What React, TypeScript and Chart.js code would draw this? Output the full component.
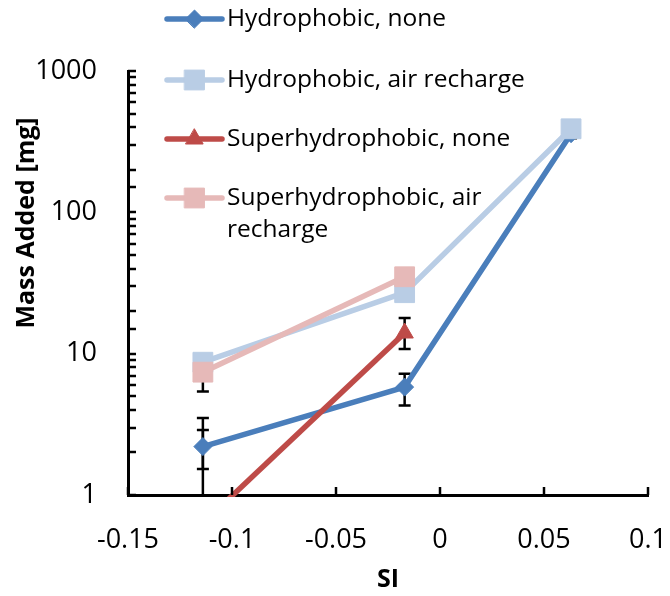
import React, { useEffect, useRef } from "react";
import { Chart, registerables } from "chart.js";
import { drawPoint } from "chart.js/helpers";
Chart.register(...registerables);

// ---------- data ----------
const seriesLabels = [
  "Hydrophobic, none",
  "Hydrophobic, air recharge",
  "Superhydrophobic, none",
  "Superhydrophobic, air recharge",
];
const siValues = [-0.114, -0.017, 0.063];
const hydroNone = [2.2, 5.8, 360];
const hydroNoneLow = [1.53, 4.3, 335];
const hydroNoneHigh = [3.5, 7.2, 385];
const hydroAir = [8.7, 27, 390];
const superNone = [0.63, 14];
const superNoneLow = [0.3, 10.8];
const superNoneHigh = [2.88, 17.9];
const superAir = [7.4, 35];
const superAirLow = [5.4, 31];
const superAirHigh = [9.5, 39];

const xTickValues = [-0.15, -0.1, -0.05, 0, 0.05, 0.1];
const xTickLabels = ["-0.15", "-0.1", "-0.05", "0", "0.05", "0.1"];
const yMajorTicks = [1, 10, 100, 1000];
const xTitle = "SI";
const yTitle = "Mass Added [mg]";

const colors = ["#4a7ebb", "#b9cde5", "#be4b48", "#e6b9b8"];
const FONT = "'Open Sans', sans-serif";

function pts(ys: number[]) {
  return ys.map((y, i) => ({ x: siValues[i], y }));
}

const errorSets = [
  { data: hydroNone, low: hydroNoneLow, high: hydroNoneHigh },
  { data: superNone, low: superNoneLow, high: superNoneHigh },
  { data: superAir, low: superAirLow, high: superAirHigh },
];

const errorBarPlugin = {
  id: "errorBars",
  beforeDatasetsDraw(chart: any) {
    const { ctx, chartArea } = chart;
    const xs = chart.scales.x;
    const ys = chart.scales.y;
    ctx.save();
    ctx.beginPath();
    ctx.rect(chartArea.left, chartArea.top, chartArea.right - chartArea.left, chartArea.bottom - chartArea.top);
    ctx.clip();
    ctx.strokeStyle = "#000";
    ctx.lineWidth = 2.5;
    errorSets.forEach((s) => {
      s.data.forEach((_v, i) => {
        const px = xs.getPixelForValue(siValues[i]);
        const lo = ys.getPixelForValue(s.low[i]);
        const hi = ys.getPixelForValue(s.high[i]);
        ctx.beginPath();
        ctx.moveTo(px, lo);
        ctx.lineTo(px, hi);
        ctx.moveTo(px - 6, lo);
        ctx.lineTo(px + 6, lo);
        ctx.moveTo(px - 6, hi);
        ctx.lineTo(px + 6, hi);
        ctx.stroke();
      });
    });
    ctx.restore();
  },
};

const decorPlugin = {
  id: "decor",
  afterDraw(chart: any) {
    const { ctx, chartArea } = chart;
    const xs = chart.scales.x;
    const ys = chart.scales.y;
    ctx.save();
    // inward ticks
    ctx.strokeStyle = "#000";
    ctx.lineWidth = 2.5;
    ys.ticks.forEach((t: any) => {
      const py = Math.round(ys.getPixelForValue(t.value));
      ctx.beginPath();
      ctx.moveTo(chartArea.left, py);
      ctx.lineTo(chartArea.left + 8, py);
      ctx.stroke();
    });
    xs.ticks.forEach((t: any) => {
      const px = Math.round(xs.getPixelForValue(t.value));
      ctx.beginPath();
      ctx.moveTo(px, chartArea.bottom);
      ctx.lineTo(px, chartArea.bottom - 8);
      ctx.stroke();
    });
    // axis titles
    ctx.fillStyle = "#000";
    ctx.font = `bold 25px ${FONT}`;
    ctx.textAlign = "center";
    ctx.textBaseline = "middle";
    ctx.fillText(xTitle, (chartArea.left + chartArea.right) / 2, 580);
    ctx.save();
    ctx.translate(27, 223);
    ctx.rotate(-Math.PI / 2);
    ctx.fillText(yTitle, 0, 0);
    ctx.restore();

    // legend
    const rowsY = [19, 80, 139, 198];
    ctx.font = `24.5px ${FONT}`;
    ctx.textAlign = "left";
    chart.data.datasets.forEach((ds: any, i: number) => {
      const y = rowsY[i];
      ctx.strokeStyle = ds.borderColor;
      ctx.lineWidth = ds.borderWidth;
      ctx.lineCap = "round";
      ctx.beginPath();
      ctx.moveTo(167, y);
      ctx.lineTo(222, y);
      ctx.stroke();
      ctx.fillStyle = ds.pointBackgroundColor;
      ctx.strokeStyle = ds.pointBorderColor;
      ctx.lineWidth = 1;
      drawPoint(ctx, { pointStyle: ds.pointStyle, radius: ds.pointRadius, borderWidth: 1, rotation: 0 }, 194.5, y);
      ctx.fillStyle = "#000";
      // wrap text
      const words = String(ds.label).split(" ");
      const lines: string[] = [];
      let cur = "";
      words.forEach((w) => {
        const test = cur ? cur + " " + w : w;
        if (ctx.measureText(test).width > 310 && cur) {
          lines.push(cur);
          cur = w;
        } else cur = test;
      });
      lines.push(cur);
      lines.forEach((ln, k) => ctx.fillText(ln, 227, y + k * 32));
    });
    ctx.restore();
  },
};

export default function App() {
  const ref = useRef<HTMLCanvasElement>(null);
  useEffect(() => {
    const mk = (i: number, data: number[], style: string, radius: number, order: number) => ({
      label: seriesLabels[i],
      data: pts(data),
      borderColor: colors[i],
      backgroundColor: colors[i],
      pointBackgroundColor: colors[i],
      pointBorderColor: colors[i],
      pointBorderWidth: 1,
      borderWidth: 5.5,
      pointStyle: style,
      pointRadius: radius,
      pointHoverRadius: radius,
      tension: 0,
      order,
      clip: 2,
    });
    const chart = new Chart(ref.current!, {
      type: "line",
      data: {
        datasets: [
          mk(0, hydroNone, "rectRot", 9, 4),
          mk(1, hydroAir, "rect", 14, 3),
          mk(2, superNone, "triangle", 10, 2),
          mk(3, superAir, "rect", 14, 1),
        ],
      },
      options: {
        animation: false,
        responsive: false,
        events: [],
        layout: { padding: { top: 71, right: 22, left: 0, bottom: 0 } },
        plugins: { legend: { display: false }, tooltip: { enabled: false } },
        scales: {
          x: {
            type: "linear",
            min: -0.15,
            max: 0.1,
            afterBuildTicks: (s: any) => {
              s.ticks = xTickValues.map((v) => ({ value: v }));
            },
            afterFit: (s: any) => {
              s.height = 101;
              s.paddingLeft = 0;
              s.paddingRight = 0;
            },
            grid: { display: false, drawTicks: false },
            border: { display: true, color: "#000", width: 3 },
            ticks: {
              autoSkip: false,
              maxRotation: 0,
              padding: 29,
              color: "#000",
              font: { family: FONT, size: 27 },
              callback: (_v: any, i: number) => xTickLabels[i],
            },
          },
          y: {
            type: "logarithmic",
            min: 1,
            max: 1000,
            afterFit: (s: any) => {
              s.width = 128;
              s.paddingTop = 0;
              s.paddingBottom = 0;
            },
            grid: { display: false, drawTicks: false },
            border: { display: true, color: "#000", width: 3 },
            ticks: {
              autoSkip: false,
              padding: 31,
              color: "#000",
              font: { family: FONT, size: 27 },
              callback: (v: any) => {
                const m = yMajorTicks.find((t) => Math.abs(t - Number(v)) < 1e-6 * t);
                return m !== undefined ? String(m) : "";
              },
            },
          },
        },
      } as any,
      plugins: [errorBarPlugin, decorPlugin],
    });
    return () => chart.destroy();
  }, []);
  return (
    <div style={{ position: "absolute", left: 0, top: 0, width: 670, height: 596, background: "#fff" }}>
      <canvas ref={ref} width={670} height={596} />
    </div>
  );
}
